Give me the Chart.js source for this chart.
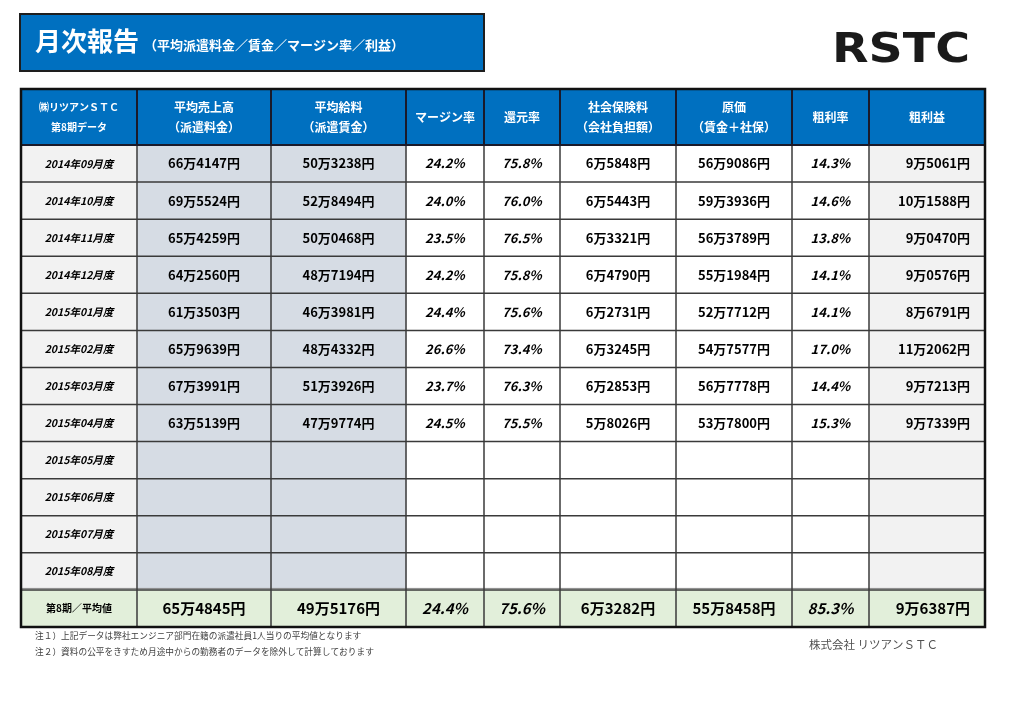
<!DOCTYPE html>
<html><head><meta charset="utf-8">
<style>html,body{margin:0;padding:0;background:#fff;}#wrap{width:1024px;height:724px;position:relative;}canvas{display:block;}</style>
<script src="https://cdn.jsdelivr.net/npm/chart.js@4/dist/chart.umd.min.js"></script>
</head><body><div id="wrap"><canvas id="c" width="1024" height="724" style="width:1024px;height:724px"></canvas></div>
<script>
// ---------- DATA ----------
const months = ['2014年09月度','2014年10月度','2014年11月度','2014年12月度','2015年01月度','2015年02月度','2015年03月度','2015年04月度','2015年05月度','2015年06月度','2015年07月度','2015年08月度'];
const avgLabel = '第8期／平均値';
const sales       = [664147, 695524, 654259, 642560, 613503, 659639, 673991, 635139, null, null, null, null];
const wages       = [503238, 528494, 500468, 487194, 463981, 484332, 513926, 479774, null, null, null, null];
const marginRate  = [24.2, 24.0, 23.5, 24.2, 24.4, 26.6, 23.7, 24.5, null, null, null, null];
const returnRate  = [75.8, 76.0, 76.5, 75.8, 75.6, 73.4, 76.3, 75.5, null, null, null, null];
const socialIns   = [65848, 65443, 63321, 64790, 62731, 63245, 62853, 58026, null, null, null, null];
const costs       = [569086, 593936, 563789, 551984, 527712, 547577, 567778, 537800, null, null, null, null];
const grossRate   = [14.3, 14.6, 13.8, 14.1, 14.1, 17.0, 14.4, 15.3, null, null, null, null];
const grossProfit = [95061, 101588, 90470, 90576, 86791, 112062, 97213, 97339, null, null, null, null];
const avgRow      = [654845, 495176, 24.4, 75.6, 63282, 558458, 85.3, 96387];
const headerLine1 = ['㈱リツアンＳＴＣ','平均売上高','平均給料','マージン率','還元率','社会保険料','原価','粗利率','粗利益'];
const headerLine2 = ['第8期データ','（派遣料金）','（派遣賃金）','','','（会社負担額）','（賃金＋社保）','',''];
const seriesList  = [sales, wages, marginRate, returnRate, socialIns, costs, grossRate, grossProfit];
const seriesKind  = ['yen','yen','pct','pct','yen','yen','pct','yen'];

// ---------- LAYOUT / STYLE ----------
const colWidths = [116,134,135,78,76,116,116,77,116];
const colEdges = [0]; colWidths.forEach(w => colEdges.push(colEdges[colEdges.length-1] + w));
const headerHeight = 56;
const BLUE = '#0070C0', GREEN = '#E2EFDA';
const colColors = ['#F2F2F2','#D6DCE4','#D6DCE4','#FFFFFF','#FFFFFF','#FFFFFF','#FFFFFF','#FFFFFF','#F2F2F2'];
const FONT = '"Noto Sans CJK JP","Noto Sans",sans-serif';

const rowLabels = months.concat([avgLabel]);
const AVG = rowLabels.length - 1;

function fmtYen(v){ return Math.floor(v/10000) + '万' + String(v % 10000).padStart(4,'0') + '円'; }
function fmtPct(v){ return v.toFixed(1) + '%'; }

const datasets = colWidths.map((w, i) => ({
  label: 'col' + i,
  data: rowLabels.map(() => [colEdges[i], colEdges[i+1]]),
  backgroundColor: ctx => ctx.dataIndex === AVG ? GREEN : colColors[i],
  borderWidth: 0,
  borderSkipped: false,
  grouped: false,
  barPercentage: 1,
  categoryPercentage: 1
}));

const tablePlugin = {
  id: 'tablePlugin',
  afterDatasetsDraw(chart){
    const {ctx, chartArea: a, scales: {x, y}} = chart;
    const xs = colEdges.map(v => x.getPixelForValue(v));
    const bandH = y.getPixelForValue(1) - y.getPixelForValue(0);
    const rowTop = i => y.getPixelForValue(i) - bandH/2;
    const hTop = a.top - headerHeight;
    ctx.save();
    // header row
    ctx.fillStyle = BLUE;
    ctx.fillRect(xs[0], hTop, xs[9]-xs[0], headerHeight);
    // body grid
    ctx.strokeStyle = '#3A3A3A'; ctx.lineWidth = 1.5;
    for (let k = 1; k < rowLabels.length; k++){
      const yy = rowTop(k);
      ctx.beginPath(); ctx.moveTo(xs[0], yy); ctx.lineTo(xs[9], yy); ctx.stroke();
    }
    // double line above average row
    ctx.strokeStyle = '#888'; ctx.lineWidth = 1;
    ctx.beginPath(); ctx.moveTo(xs[0], rowTop(AVG)-1.5); ctx.lineTo(xs[9], rowTop(AVG)-1.5); ctx.stroke();
    ctx.strokeStyle = '#3A3A3A'; ctx.lineWidth = 1.5;
    for (let c = 1; c < 9; c++){
      ctx.beginPath(); ctx.moveTo(xs[c], a.top); ctx.lineTo(xs[c], a.bottom); ctx.stroke();
    }
    // header dividers
    ctx.strokeStyle = '#1A1A2A'; ctx.lineWidth = 2;
    for (let c = 1; c < 9; c++){
      ctx.beginPath(); ctx.moveTo(xs[c], hTop); ctx.lineTo(xs[c], a.top); ctx.stroke();
    }
    ctx.beginPath(); ctx.moveTo(xs[0], a.top); ctx.lineTo(xs[9], a.top); ctx.stroke();
    // outer border
    ctx.strokeStyle = '#111'; ctx.lineWidth = 2.5;
    ctx.strokeRect(xs[0], hTop, xs[9]-xs[0], a.bottom - hTop);

    // header text
    ctx.fillStyle = '#FFFFFF'; ctx.textAlign = 'center'; ctx.textBaseline = 'middle';
    const hMid = hTop + headerHeight/2;
    headerLine1.forEach((t, c) => {
      const cx = (xs[c] + xs[c+1]) / 2;
      ctx.font = (c === 0 ? 'bold 10px ' : 'bold 12px ') + FONT;
      if (headerLine2[c]){
        ctx.fillText(t, cx, hMid - 10);
        ctx.fillText(headerLine2[c], cx, hMid + 10);
      } else {
        ctx.fillText(t, cx, hMid);
      }
    });

    // body text
    ctx.fillStyle = '#000';
    rowLabels.forEach((lab, r) => {
      const cy = y.getPixelForValue(r);
      const isAvg = r === AVG;
      ctx.textAlign = 'center';
      ctx.font = (isAvg ? 'bold 10px ' : 'bold italic 10.5px ') + FONT;
      ctx.fillText(lab, (xs[0]+xs[1])/2, cy);
      seriesList.forEach((s, j) => {
        const v = isAvg ? avgRow[j] : s[r];
        if (v === null || v === undefined) return;
        const kind = seriesKind[j];
        const txt = kind === 'yen' ? fmtYen(v) : fmtPct(v);
        const size = isAvg ? 15 : 13;
        ctx.font = (kind === 'pct' ? 'bold italic ' : 'bold ') + size + 'px ' + FONT;
        const c = j + 1;
        if (c === 8){
          ctx.textAlign = 'right';
          ctx.fillText(txt, xs[9] - 15, cy);
        } else {
          ctx.textAlign = 'center';
          ctx.fillText(txt, (xs[c]+xs[c+1])/2, cy);
        }
      });
    });
    ctx.restore();
  },
  afterDraw(chart){
    const ctx = chart.ctx;
    ctx.save();
    // title box
    ctx.fillStyle = BLUE;
    ctx.fillRect(20, 14, 464, 57);
    ctx.strokeStyle = '#1E1E1E'; ctx.lineWidth = 2;
    ctx.strokeRect(20, 14, 464, 57);
    ctx.fillStyle = '#FFFFFF'; ctx.textBaseline = 'middle'; ctx.textAlign = 'left';
    ctx.font = 'bold 26px ' + FONT;
    ctx.fillText('月次報告', 35, 41);
    ctx.font = 'bold 13px ' + FONT;
    ctx.fillText('（平均派遣料金／賃金／マージン率／利益）', 144, 45);
    // logo
    ctx.fillStyle = '#1A1A1A';
    ctx.font = 'bold 40px "DejaVu Sans"';
    ctx.textBaseline = 'alphabetic';
    const w = ctx.measureText('RSTC').width;
    ctx.save();
    ctx.translate(832, 62);
    ctx.scale(138 / w, 1);
    ctx.fillText('RSTC', 0, 0);
    ctx.restore();
    // footnotes
    ctx.textBaseline = 'middle';
    ctx.fillStyle = '#404040';
    ctx.font = '8.7px ' + FONT;
    ctx.fillText('注１）上記データは弊社エンジニア部門在籍の派遣社員1人当りの平均値となります', 35, 636);
    ctx.fillText('注２）資料の公平をきすため月途中からの勤務者のデータを除外して計算しております', 35, 652);
    ctx.fillStyle = '#505050';
    ctx.font = '11.5px ' + FONT;
    ctx.fillText('株式会社 リツアンＳＴＣ', 809, 645);
    ctx.restore();
  }
};

new Chart(document.getElementById('c'), {
  type: 'bar',
  data: { labels: rowLabels, datasets },
  options: {
    indexAxis: 'y',
    responsive: false,
    animation: false,
    devicePixelRatio: 1,
    layout: { padding: { left: 21, right: 39, top: 145, bottom: 97 } },
    plugins: { legend: { display: false }, tooltip: { enabled: false }, title: { display: false } },
    scales: {
      x: { type: 'linear', min: 0, max: colEdges[colEdges.length-1], display: false },
      y: { type: 'category', display: false, offset: true }
    }
  },
  plugins: [tablePlugin]
});
</script></body></html>
